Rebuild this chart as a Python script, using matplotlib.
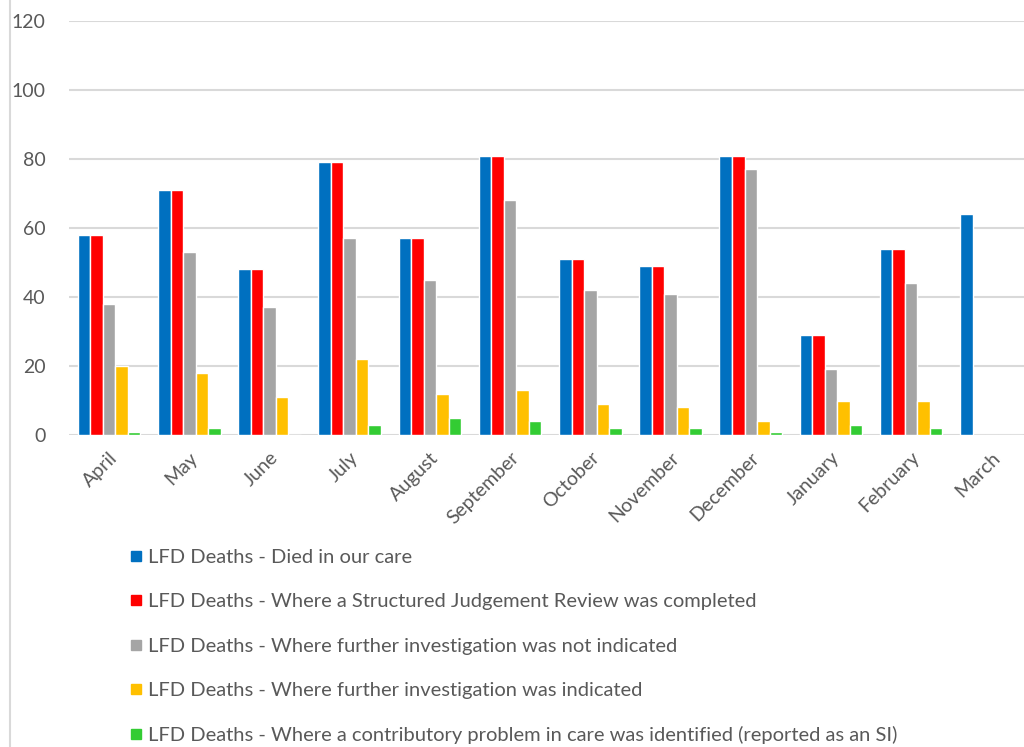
import numpy as np
import matplotlib.pyplot as plt
from matplotlib.lines import Line2D

months = ["April", "May", "June", "July", "August", "September", "October",
          "November", "December", "January", "February", "March"]

died_in_care = [58, 71, 48, 79, 57, 81, 51, 49, 81, 29, 54, 64]
sjr_completed = [58, 71, 48, 79, 57, 81, 51, 49, 81, 29, 54, 0]
not_indicated = [38, 53, 37, 57, 45, 68, 42, 41, 77, 19, 44, 0]
indicated = [20, 18, 11, 22, 12, 13, 9, 8, 4, 10, 10, 0]
problem_in_care = [1, 2, 0, 3, 5, 4, 2, 2, 1, 3, 2, 0]

series_labels = [
    "LFD Deaths - Died in our care",
    "LFD Deaths - Where a Structured Judgement Review was completed",
    "LFD Deaths - Where further investigation was not indicated",
    "LFD Deaths - Where further investigation was indicated",
    "LFD Deaths - Where a contributory problem in care was identified (reported as an SI)",
]
colors = ["#0070C0", "#FF0000", "#A5A5A5", "#FFC000", "#33CC33"]

plt.rcParams['font.family'] = ['Lato', 'DejaVu Sans']
text_color = "#595959"

fig = plt.figure(figsize=(10.24, 7.47), dpi=100)
ax = fig.add_axes([69 / 1024, 1 - 435 / 747, (1031.5 - 69) / 1024, 414 / 747])

series = [died_in_care, sjr_completed, not_indicated, indicated, problem_in_care]
x = np.arange(len(months))
pitch = 0.156
handles = []
for i, (vals, col, lab) in enumerate(zip(series, colors, series_labels)):
    ax.bar(x + (i - 2) * pitch, vals, width=pitch, color=col,
           edgecolor="white", linewidth=1.0, zorder=3)
    handles.append(Line2D([], [], marker="s", linestyle="none",
                          markersize=7.5, color=col, label=lab))

ax.set_xlim(-0.5, len(months) - 0.5)
ax.set_ylim(0, 120)
ax.set_yticks(range(0, 121, 20))
ax.grid(axis="y", color="#D9D9D9", linewidth=1.5, zorder=0)
for s in ax.spines.values():
    s.set_visible(False)
ax.tick_params(length=0, colors=text_color, labelsize=14)
ax.tick_params(axis="y", pad=17)
ax.set_xticks(x)
ax.set_xticklabels(months, rotation=45, ha="right", rotation_mode="anchor")
ax.tick_params(axis="x", pad=10)

# thin border line on the left of the chart area
fig.add_artist(Line2D([10 / 1024, 10 / 1024], [0, 1], color="#D9D9D9",
                      linewidth=1.5, transform=fig.transFigure))

fig.legend(handles=handles, loc="upper left", bbox_to_anchor=(122 / 1024, 1 - 541 / 747),
           frameon=False, fontsize=14.5, labelcolor=text_color, labelspacing=1.35,
           handlelength=0.6, handletextpad=0.3, borderaxespad=0)

fig.savefig("out.png", dpi=100)
